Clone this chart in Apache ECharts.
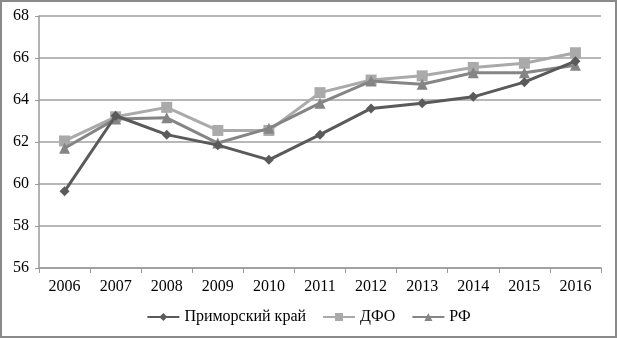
<!DOCTYPE html>
<html><head><meta charset="utf-8">
<script src="https://cdn.jsdelivr.net/npm/echarts@6/dist/echarts.min.js"></script>
<style>html,body{margin:0;padding:0;background:#fff}#c{width:617px;height:338px;box-sizing:border-box;border:2px solid #8a8a8a}</style>
</head><body><div id="c"></div>
<script>
const categories = ['2006','2007','2008','2009','2010','2011','2012','2013','2014','2015','2016'];
const primorsky = [59.65, 63.25, 62.35, 61.85, 61.15, 62.35, 63.6, 63.85, 64.15, 64.85, 65.85];
const dfo = [62.05, 63.2, 63.65, 62.55, 62.55, 64.35, 64.95, 65.15, 65.55, 65.75, 66.25];
const rf = [61.7, 63.1, 63.15, 61.95, 62.65, 63.85, 64.9, 64.75, 65.3, 65.3, 65.65];
const seriesNames = ['Приморский край', 'ДФО', 'РФ'];

const chart = echarts.init(document.getElementById('c'));
const font = '"Liberation Serif", "Times New Roman", serif';
chart.setOption({
  animation: false,
  textStyle: { fontFamily: font },
  grid: { left: 37, right: 14, top: 14, bottom: 68 },
  legend: {
    bottom: 6, left: 'center', itemWidth: 32, itemHeight: 10, itemGap: 16,
    textStyle: { fontFamily: font, fontSize: 16, color: '#000' },
    data: seriesNames
  },
  xAxis: {
    type: 'category', data: categories, boundaryGap: true,
    axisLine: { lineStyle: { color: '#999', width: 1.5 } },
    axisTick: { show: true, length: 5, lineStyle: { color: '#999' } },
    axisLabel: { fontFamily: font, fontSize: 16, color: '#000', margin: 11 }
  },
  yAxis: {
    type: 'value', min: 56, max: 68, interval: 2,
    axisLine: { show: true, lineStyle: { color: '#999', width: 1.5 } },
    axisTick: { show: true, length: 4, lineStyle: { color: '#999' } },
    axisLabel: { fontFamily: font, fontSize: 16, color: '#000', margin: 10 },
    splitLine: { lineStyle: { color: '#a0a0a0', width: 1.5 } }
  },
  series: [
    { name: seriesNames[0], type: 'line', data: primorsky, symbol: 'diamond', symbolSize: 10,
      lineStyle: { color: '#5a5a5a', width: 3 }, itemStyle: { color: '#5a5a5a' }, z: 3 },
    { name: seriesNames[1], type: 'line', data: dfo, symbol: 'rect', symbolSize: 11,
      lineStyle: { color: '#aaaaaa', width: 3 }, itemStyle: { color: '#aaaaaa' }, z: 1 },
    { name: seriesNames[2], type: 'line', data: rf, symbol: 'triangle', symbolSize: 11,
      lineStyle: { color: '#858585', width: 3 }, itemStyle: { color: '#858585' }, z: 2 }
  ]
});
</script></body></html>
